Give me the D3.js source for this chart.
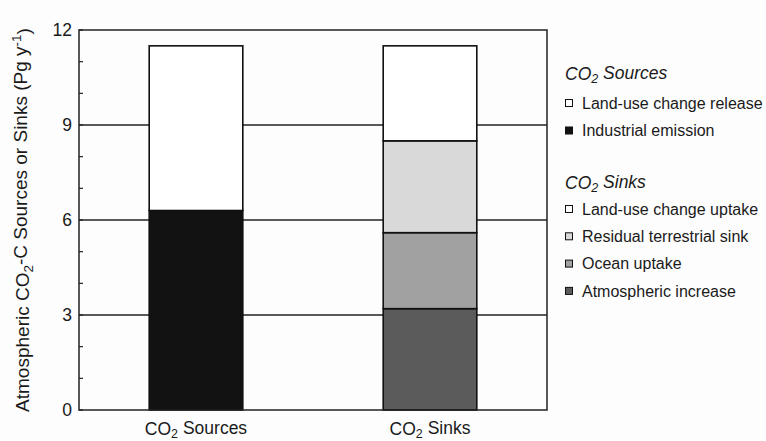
<html>
    <head>
        <style>
            body { margin: 0; background: #fdfdfd; }
            text { font-family: "Liberation Sans", Arial, sans-serif; fill: #1a1a1a; }
        </style>
    </head>
    <body>

        <svg id="chart"></svg>

        <script src="https://cdn.jsdelivr.net/npm/d3@7"></script>
        <script>

            // values (Pg C per year)
            const categories = ["CO2 Sources", "CO2 Sinks"];
            const sourceLayers = ["Industrial emission", "Land-use change release"];
            const sourceValues = [6.3, 5.2];
            const sinkLayers = ["Atmospheric increase", "Ocean uptake", "Residual terrestrial sink", "Land-use change uptake"];
            const sinkValues = [3.2, 2.4, 2.9, 3.0];
            const yTicks = [0, 3, 6, 9, 12];

            const fills = {
                "Industrial emission": "#121212",
                "Land-use change release": "#ffffff",
                "Atmospheric increase": "#5b5b5b",
                "Ocean uptake": "#a1a1a1",
                "Residual terrestrial sink": "#d9d9d9",
                "Land-use change uptake": "#ffffff"
            };

            let width = 766;
            let height = 441;
            let margin = {top: 30, right: 219, bottom: 31, left: 79};

            let svg = d3.select("#chart").attr("width", width).attr("height", height);

            let x = d3.scaleBand()
                        .domain(categories)
                        .range([margin.left, width - margin.right])
                        .paddingInner(0.6)
                        .paddingOuter(0.3);

            let y = d3.scaleLinear()
                        .domain([0, 12])
                        .range([height - margin.bottom, margin.top]);

            // grid lines
            svg.append("g")
                .selectAll("line")
                .data(yTicks.slice(1, -1))
                .enter()
                .append("line")
                .attr("x1", margin.left)
                .attr("x2", width - margin.right)
                .attr("y1", d => y(d))
                .attr("y2", d => y(d))
                .attr("stroke", "#222")
                .attr("stroke-width", 1.3);

            // minor ticks inside the left axis
            svg.append("g")
                .selectAll("line")
                .data(y.ticks(12))
                .enter()
                .append("line")
                .attr("x1", margin.left)
                .attr("x2", margin.left + 4)
                .attr("y1", d => y(d))
                .attr("y2", d => y(d))
                .attr("stroke", "#222")
                .attr("stroke-width", 1.2);

            // build stacked segments
            function stackBar(cat, layers, values){
                let tops = d3.cumsum(values);
                return layers.map((k, i) => ({cat: cat, key: k, y0: tops[i] - values[i], y1: tops[i]}));
            }
            let segments = stackBar(categories[0], sourceLayers, sourceValues)
                            .concat(stackBar(categories[1], sinkLayers, sinkValues));

            svg.append("g")
                .selectAll("rect")
                .data(segments)
                .enter()
                .append("rect")
                .attr("x", d => x(d.cat))
                .attr("width", x.bandwidth())
                .attr("y", d => y(d.y1))
                .attr("height", d => y(d.y0) - y(d.y1))
                .attr("fill", d => fills[d.key])
                .attr("stroke", "#111")
                .attr("stroke-width", 1.6);

            // frame
            svg.append("rect")
                .attr("x", margin.left)
                .attr("y", margin.top)
                .attr("width", width - margin.right - margin.left)
                .attr("height", height - margin.bottom - margin.top)
                .attr("fill", "none")
                .attr("stroke", "#222")
                .attr("stroke-width", 1.5);

            // y axis labels
            let yAxis = svg.append("g")
                .attr("transform", `translate(${margin.left},0)`)
                .call(d3.axisLeft(y).tickValues(yTicks).tickSize(0).tickPadding(7));
            yAxis.select(".domain").remove();
            yAxis.selectAll("text")
                .style("font-size", "17.5px")
                .attr("font-family", null)
                .attr("fill", "#1a1a1a");

            // text with a CO2 subscript
            function co2Label(sel, rest, sub){
                sel.append("tspan").text("CO");
                sel.append("tspan").attr("dy", "0.25em").style("font-size", sub).text("2");
                sel.append("tspan").attr("dy", "-0.25em").text(rest);
            }

            // x labels
            svg.append("g")
                .selectAll("text")
                .data(categories)
                .enter()
                .append("text")
                .attr("x", d => x(d) + x.bandwidth() / 2)
                .attr("y", height - 6)
                .attr("text-anchor", "middle")
                .style("font-size", "17.5px")
                .each(function(d){ co2Label(d3.select(this), d.replace("CO2", ""), "12.5px"); });

            // y title
            let title = svg.append("text")
                .attr("transform", `translate(29,${(margin.top + height - margin.bottom) / 2}) rotate(-90)`)
                .attr("text-anchor", "middle")
                .style("font-size", "19px");
            title.append("tspan").text("Atmospheric CO");
            title.append("tspan").attr("dy", "0.28em").style("font-size", "13.5px").text("2");
            title.append("tspan").attr("dy", "-0.28em").text("-C Sources or Sinks (Pg y");
            title.append("tspan").attr("dy", "-0.45em").style("font-size", "13.5px").text("-1");
            title.append("tspan").attr("dy", "0.45em").text(")");

            // legend
            let legend = svg.append("g").attr("transform", "translate(565,0)");

            function legendGroup(label, layers, titleY, rowY, rowStep){
                legend.append("text")
                    .attr("x", 0)
                    .attr("y", titleY)
                    .style("font-size", "17.5px")
                    .style("font-style", "italic")
                    .each(function(){ co2Label(d3.select(this), label.replace("CO2", ""), "12.5px"); });

                let rows = legend.append("g")
                    .selectAll("g")
                    .data(layers)
                    .enter()
                    .append("g")
                    .attr("transform", (d, i) => `translate(0,${rowY + i * rowStep})`);
                rows.append("rect")
                    .attr("x", 0.5)
                    .attr("y", -3.5)
                    .attr("width", 7)
                    .attr("height", 7)
                    .attr("fill", d => fills[d])
                    .attr("stroke", "#111")
                    .attr("stroke-width", 1);
                rows.append("text")
                    .attr("x", 17)
                    .attr("y", 5.8)
                    .style("font-size", "16px")
                    .text(d => d);
            }

            // legend lists top layer first
            legendGroup(categories[0], sourceLayers.slice().reverse(), 80, 103, 27.5);
            legendGroup(categories[1], sinkLayers.slice().reverse(), 189, 209, 27.3);

        </script>
    </body>
</html>
